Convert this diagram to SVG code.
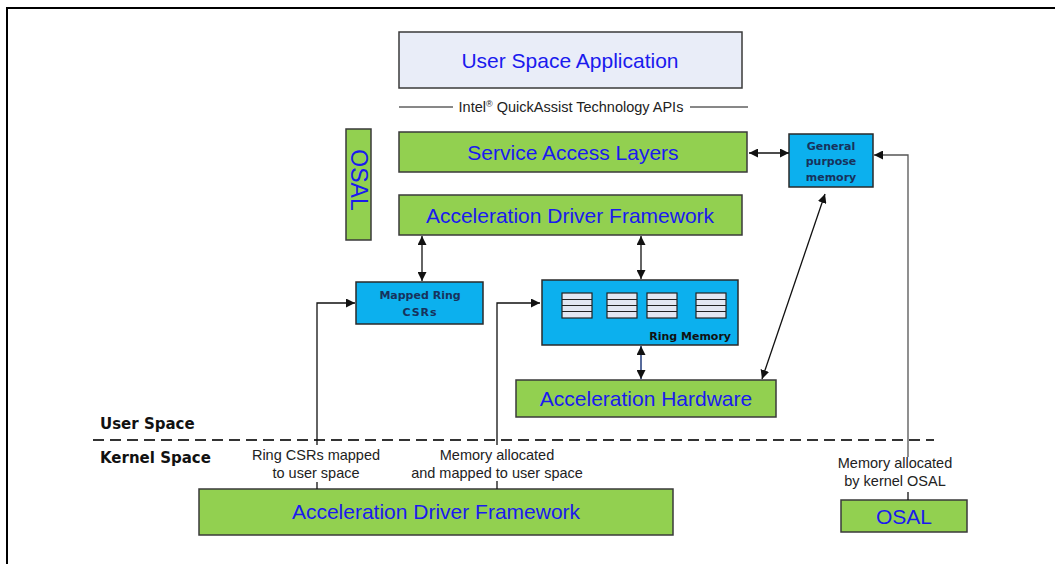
<svg xmlns="http://www.w3.org/2000/svg" width="1055" height="564" viewBox="0 0 1055 564">
<style>
.g{fill:#92d050;stroke:#3a3a3a;stroke-width:1.5}
.c{fill:#0cb0ee;stroke:#2a2a2a;stroke-width:1.5}
.bt{font-family:"Liberation Sans",Arial,sans-serif;font-size:21px;fill:#1a1aee;text-anchor:middle}
.nt{font-family:"DejaVu Sans",Verdana,sans-serif;font-size:11px;font-weight:bold;fill:#17325c;text-anchor:middle}
.lt{font-family:"Liberation Sans",Arial,sans-serif;font-size:14.5px;fill:#222;text-anchor:middle}
.st{font-family:"DejaVu Sans",Verdana,sans-serif;font-size:15px;font-weight:bold;fill:#111}
.ln{fill:none;stroke:#111;stroke-width:1.3}
.ic{fill:#e3e7f2;stroke:#222;stroke-width:1.2}
</style>
<defs>
<marker id="ah" viewBox="0 0 10 10" refX="10" refY="5" markerWidth="9" markerHeight="9" markerUnits="userSpaceOnUse" orient="auto-start-reverse">
<path d="M0,0 L10,5 L0,10 z" fill="#111"/>
</marker>
</defs>
<rect width="1055" height="564" fill="#fff"/>
<path d="M7,564 V8 H1055" fill="none" stroke="#000" stroke-width="2"/>

<g id="user-space-application">
<rect x="399" y="32" width="343" height="56" fill="#e9edf8" stroke="#3a3a3a" stroke-width="1.5"/>
<text class="bt" x="570" y="68">User Space Application</text>
</g>

<g id="api-label">
<line x1="399" y1="107" x2="453" y2="107" stroke="#111" stroke-width="1"/>
<line x1="690" y1="107" x2="748" y2="107" stroke="#111" stroke-width="1"/>
<text class="lt" x="571" y="112">Intel<tspan baseline-shift="super" font-size="9">®</tspan> QuickAssist Technology APIs</text>
</g>

<g id="service-access-layers">
<rect class="g" x="399" y="132" width="348" height="40"/>
<text class="bt" x="573" y="160">Service Access Layers</text>
</g>

<g id="osal-user">
<rect class="g" x="346" y="129" width="25" height="111"/>
<text class="bt" style="font-size:23px" transform="translate(351,180) rotate(90)" x="0" y="0">OSAL</text>
</g>

<g id="adf-user">
<rect class="g" x="399" y="195" width="343" height="40"/>
<text class="bt" x="570" y="223">Acceleration Driver Framework</text>
</g>

<g id="general-purpose-memory">
<rect class="c" x="789" y="134" width="84" height="53"/>
<text class="nt" x="831" y="150">General</text>
<text class="nt" x="831" y="165">purpose</text>
<text class="nt" x="831" y="181">memory</text>
</g>

<g id="mapped-ring-csrs">
<rect class="c" x="356" y="282" width="127" height="42"/>
<text class="nt" x="420" y="299">Mapped Ring</text>
<text class="nt" x="420" y="316" letter-spacing="1">CSRs</text>
</g>

<g id="ring-memory">
<rect class="c" x="542" y="280" width="196" height="65"/>
<g>
<rect class="ic" x="562" y="293" width="30" height="25"/>
<path d="M562,299.5 H592 M562,305.5 H592 M562,311.5 H592" stroke="#222" stroke-width="1"/>
<rect class="ic" x="607" y="293" width="30" height="25"/>
<path d="M607,299.5 H637 M607,305.5 H637 M607,311.5 H637" stroke="#222" stroke-width="1"/>
<rect class="ic" x="647" y="293" width="30" height="25"/>
<path d="M647,299.5 H677 M647,305.5 H677 M647,311.5 H677" stroke="#222" stroke-width="1"/>
<rect class="ic" x="696" y="293" width="30" height="25"/>
<path d="M696,299.5 H726 M696,305.5 H726 M696,311.5 H726" stroke="#222" stroke-width="1"/>
</g>
<text class="nt" x="731" y="340" style="text-anchor:end;fill:#111">Ring Memory</text>
</g>

<g id="acceleration-hardware">
<rect class="g" x="516" y="380" width="260" height="37"/>
<text class="bt" x="646" y="406">Acceleration Hardware</text>
</g>

<g id="space-labels">
<text class="st" x="100" y="429">User Space</text>
<text class="st" x="100" y="463">Kernel Space</text>
<line x1="93" y1="440" x2="934" y2="440" stroke="#333" stroke-width="2" stroke-dasharray="11,6"/>
</g>

<g id="adf-kernel">
<rect class="g" x="199" y="489" width="474" height="46"/>
<text class="bt" x="436" y="519">Acceleration Driver Framework</text>
</g>

<g id="osal-kernel">
<rect class="g" x="841" y="500" width="126" height="32"/>
<text class="bt" x="904" y="524">OSAL</text>
</g>

<g id="connectors">
<line class="ln" x1="749" y1="153" x2="789" y2="153" marker-start="url(#ah)" marker-end="url(#ah)"/>
<path d="M908,457 V155 H874" fill="none" stroke="#555" stroke-width="1.3" marker-end="url(#ah)"/>
<line class="ln" x1="908" y1="492" x2="908" y2="500"/>
<line class="ln" x1="422" y1="236" x2="422" y2="281" marker-start="url(#ah)" marker-end="url(#ah)"/>
<line class="ln" x1="641" y1="236" x2="641" y2="279" marker-start="url(#ah)" marker-end="url(#ah)"/>
<line x1="641" y1="346" x2="641" y2="379" stroke="#1f3a7a" stroke-width="1.5" marker-start="url(#ah)" marker-end="url(#ah)"/>
<line class="ln" x1="825" y1="194" x2="762" y2="379" marker-start="url(#ah)" marker-end="url(#ah)"/>
<path class="ln" d="M317,445 V303 H355" marker-end="url(#ah)"/>
<line class="ln" x1="317" y1="482" x2="317" y2="489"/>
<path class="ln" d="M497,445 V303 H540" marker-end="url(#ah)"/>
<line class="ln" x1="497" y1="481" x2="497" y2="489"/>
</g>

<g id="connector-labels">
<text class="lt" x="316" y="460">Ring CSRs mapped</text>
<text class="lt" x="316" y="478">to user space</text>
<text class="lt" x="497" y="460">Memory allocated</text>
<text class="lt" x="497" y="478">and mapped to user space</text>
<text class="lt" x="895" y="468">Memory allocated</text>
<text class="lt" x="895" y="486">by kernel OSAL</text>
</g>
</svg>
